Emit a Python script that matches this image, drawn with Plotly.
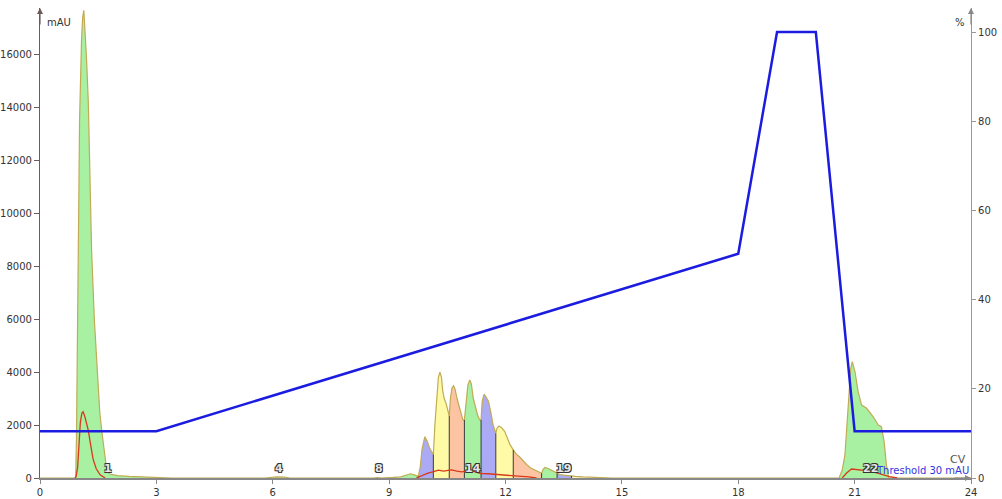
import plotly.graph_objects as go
import numpy as np

# ---------------- data ----------------
uv_cv = [0.00, 0.90, 0.92, 0.94, 0.96, 0.99, 1.02, 1.07, 1.10, 1.13, 1.16, 1.20, 1.245, 1.29, 1.33,
         1.40, 1.48, 1.54, 1.59, 1.65, 1.72, 1.80, 2.00, 2.30, 2.70, 3.00, 3.30, 3.40,
         5.80, 5.90, 6.10, 6.30, 6.45,
         8.60, 8.70, 8.80,
         9.00, 9.10, 9.30, 9.45, 9.55, 9.65, 9.72,
         9.75, 9.80, 9.85, 9.92, 9.98, 10.05, 10.10,
         10.14, 10.18, 10.22, 10.27, 10.31, 10.35, 10.38, 10.42, 10.47, 10.52,
         10.55, 10.58, 10.62, 10.66, 10.70, 10.75, 10.80, 10.86, 10.90,
         10.94, 10.98, 11.03, 11.08, 11.12, 11.17, 11.22, 11.28, 11.33,
         11.37, 11.40, 11.45, 11.50, 11.56, 11.62, 11.68,
         11.75, 11.78, 11.83, 11.90, 11.98, 12.05, 12.12,
         12.20, 12.28, 12.36, 12.45, 12.55, 12.65, 12.75, 12.85,
         12.93, 12.97, 13.02, 13.10, 13.20, 13.28,
         13.33, 13.40, 13.50, 13.60,
         13.70, 13.80, 14.00, 14.30, 14.60, 14.75,
         20.60, 20.68, 20.75, 20.83, 20.90, 20.94, 21.01, 21.09, 21.18, 21.31, 21.48, 21.61,
         21.69, 21.76, 21.82, 21.88, 24.00]
uv_mau = [0, 0, 0, 1500, 5000, 10000, 13500, 16500, 17400, 17650, 17000, 15800, 14200, 11400, 8600,
          6000, 3700, 2500, 1800, 1000, 300, 150, 90, 60, 40, 30, 10, 0,
          0, 20, 40, 30, 0,
          0, 15, 0,
          0, 20, 40, 100, 160, 120, 60,
          60, 400, 1100, 1560, 1400, 1100, 950,
          890, 2000, 3000, 3800, 3990, 3800, 3300, 3000, 2800, 2450,
          2350, 3000, 3400, 3480, 3350, 3000, 2700, 2400, 2200,
          2190, 2900, 3500, 3700, 3550, 3000, 2700, 2380, 2200,
          2190, 2900, 3160, 3050, 2900, 2500, 2000,
          1690, 1870, 1960, 1900, 1750, 1500, 1250,
          1060, 900, 800, 650, 500, 380, 300, 230,
          180, 330, 400, 360, 280, 200,
          170, 130, 110, 90,
          80, 60, 40, 25, 15, 0,
          0, 300, 870, 2750, 4140, 4390, 4010, 3260, 2750, 2630, 2310, 2000,
          1940, 1370, 490, 0, 0]

uv2_cv = [0.90, 0.93, 0.97, 1.00, 1.04, 1.08, 1.11, 1.15, 1.20, 1.245, 1.30, 1.37, 1.45, 1.55, 1.68,
          None,
          9.70, 9.85, 10.00, 10.15, 10.27, 10.40, 10.50, 10.61, 10.75, 10.87, 11.00, 11.13, 11.25,
          11.38, 11.55, 11.73, 11.95, 12.16, 12.40, 12.60, 12.80,
          None,
          20.68, 20.80, 20.92, 21.10, 21.30, 21.50, 21.70, 21.90, 22.10]
uv2_mau = [0, 50, 400, 1200, 2100, 2450, 2500, 2350, 2050, 1800, 1300, 700, 350, 120, 0,
           None,
           0, 100, 180, 240, 300, 260, 280, 310, 260, 230, 260, 280, 210,
           170, 160, 140, 120, 100, 60, 40, 0,
           None,
           0, 200, 340, 320, 280, 220, 120, 50, 0]

grad_cv = [0, 3, 18, 19, 20, 21, 24]
grad_pct = [10.5, 10.5, 50.3, 100, 100, 10.5, 10.5]

frac_start = [9.75, 10.14, 10.55, 10.94, 11.37, 11.75, 12.20, 12.93, 13.33, 13.70]
frac_end = [10.14, 10.55, 10.94, 11.37, 11.75, 12.20, 12.93, 13.33, 13.70, 14.75]
frac_color = ["#abaaf5", "#fffaa6", "#fcc4a2", "#a8f0a2", "#abaaf5", "#fffaa6", "#fcc4a2",
              "#a8f0a2", "#abaaf5", "#f6f3c8"]
frac_lines = [9.75, 10.14, 10.55, 10.94, 11.37, 11.75, 12.20, 12.93, 13.33, 13.70]

label_cv = [1.75, 6.15, 8.74, 11.15, 13.50, 21.40]
label_txt = ["1", "4", "8", "14", "19", "22"]

x_ticks = [0, 3, 6, 9, 12, 15, 18, 21, 24]
y_ticks = [0, 2000, 4000, 6000, 8000, 10000, 12000, 14000, 16000]
y2_ticks = [0, 20, 40, 60, 80, 100]

# ---------------- figure ----------------
cv = np.array(uv_cv)
mau = np.array(uv_mau)

fig = go.Figure()

# base green fill
fig.add_trace(go.Scatter(x=cv, y=mau, mode="lines", line=dict(width=0),
                         fill="tozeroy", fillcolor="#a8f0a2", hoverinfo="skip"))

# fraction fills
for s, e, c in zip(frac_start, frac_end, frac_color):
    m = (cv >= s - 1e-9) & (cv <= e + 1e-9)
    fig.add_trace(go.Scatter(x=cv[m], y=mau[m], mode="lines", line=dict(width=0),
                             fill="tozeroy", fillcolor=c, hoverinfo="skip"))

# chromatogram outline
fig.add_trace(go.Scatter(x=cv, y=mau, mode="lines",
                         line=dict(color="#c2ab55", width=1.2)))

# fraction boundary lines
bx, by = [], []
for b in frac_lines:
    i = int(np.argmin(np.abs(cv - b)))
    bx += [cv[i], cv[i], None]
    by += [0, mau[i], None]
fig.add_trace(go.Scatter(x=bx, y=by, mode="lines", line=dict(color="#3a3a3a", width=1)))

# second UV trace
fig.add_trace(go.Scatter(x=uv2_cv, y=uv2_mau, mode="lines",
                         line=dict(color="#d83a1a", width=1.3), connectgaps=False))

# gradient
fig.add_trace(go.Scatter(x=grad_cv, y=grad_pct, mode="lines", yaxis="y2",
                         line=dict(color="#1c1ce0", width=2.5)))

tickfont = dict(family="DejaVu Sans", size=10, color="#333333")

ann = []
for xc, t in zip(label_cv, label_txt):
    ann.append(dict(x=xc, y=0, xref="x", yref="y", text=t, showarrow=False,
                    yanchor="bottom", yshift=1,
                    font=dict(family="DejaVu Sans", size=11, color="#e6e6e6",
                              weight="bold",
                              shadow="-1px -1px 0 #333, 1px -1px 0 #333, -1px 1px 0 #333, 1px 1px 0 #333")))

ann += [
    dict(x=0, y=1, xref="x", yref="paper", text="mAU", showarrow=False,
         xanchor="left", yanchor="middle", xshift=5, yshift=-14,
         font=dict(family="DejaVu Sans", size=10, color="#333333")),
    dict(x=24, y=1, xref="x", yref="paper", text="%", showarrow=False,
         xanchor="right", yanchor="middle", xshift=-4, yshift=-14,
         font=dict(family="DejaVu Sans", size=10, color="#333333")),
    dict(x=24, y=0, xref="x", yref="y", text="CV", showarrow=False,
         xanchor="right", yanchor="bottom", xshift=-3, yshift=10,
         font=dict(family="DejaVu Sans", size=11, color="#555555")),
    dict(x=24, y=0, xref="x", yref="y", text="Threshold 30 mAU", showarrow=False,
         xanchor="right", yanchor="bottom", xshift=0, yshift=0,
         font=dict(family="DejaVu Sans", size=10, color="#3434e0")),
    # axis arrows
    dict(x=0, y=1, xref="x", yref="paper", ax=0, ay=18, text="", showarrow=True,
         arrowhead=2, arrowsize=1, arrowwidth=1.2, arrowcolor="#6e5a5a"),
    dict(x=24, y=1, xref="x", yref="paper", ax=0, ay=18, text="", showarrow=True,
         arrowhead=2, arrowsize=1, arrowwidth=1.2, arrowcolor="#888888"),
    dict(x=24, y=0, xref="x", yref="y", ax=-18, ay=0, text="", showarrow=True,
         arrowhead=2, arrowsize=1, arrowwidth=1.2, arrowcolor="#888888"),
]

fig.update_layout(
    width=1002, height=499,
    margin=dict(l=40, r=31, t=8, b=21, autoexpand=False),
    paper_bgcolor="white", plot_bgcolor="white",
    showlegend=False,
    xaxis=dict(range=[0, 24], tickvals=x_ticks, ticktext=[str(v) for v in x_ticks],
               showgrid=False, zeroline=False, showline=True, linecolor="#888888",
               linewidth=1.5, ticks="outside", ticklen=4, tickcolor="#888888",
               tickfont=tickfont, automargin=False),
    yaxis=dict(range=[0, 17738], tickvals=y_ticks, ticktext=[str(v) for v in y_ticks],
               showgrid=False, zeroline=False, showline=True, linecolor="#6e5a5a",
               linewidth=1.2, ticks="outside", ticklen=5, tickcolor="#6e5a5a",
               tickfont=tickfont, automargin=False),
    yaxis2=dict(range=[0, 105.4], overlaying="y", side="right", tickvals=y2_ticks,
                ticktext=[str(v) for v in y2_ticks],
                showgrid=False, zeroline=False, showline=True, linecolor="#999999",
                linewidth=1.2, ticks="outside", ticklen=4, tickcolor="#999999",
                tickfont=tickfont, automargin=False),
    annotations=ann,
)

fig.write_html("out.html", config={"displayModeBar": False},
               post_script="document.body.style.margin='0';document.body.style.padding='0';")
